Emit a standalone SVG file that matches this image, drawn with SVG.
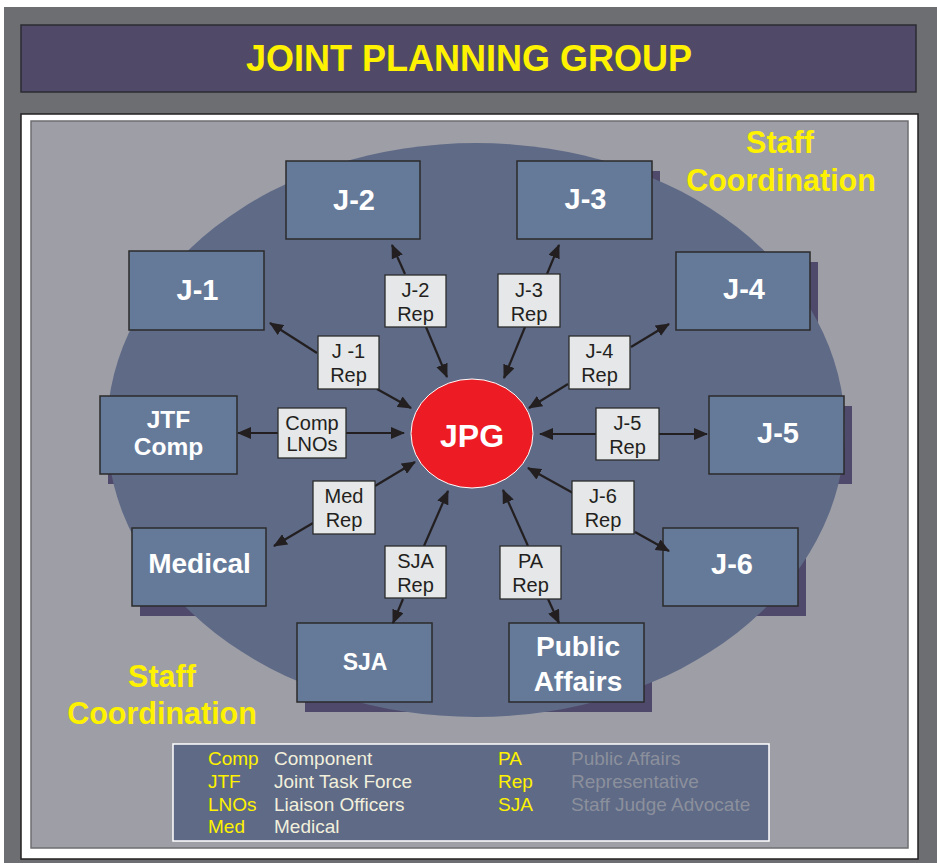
<svg xmlns="http://www.w3.org/2000/svg" width="937" height="863" viewBox="0 0 937 863">
<style>
.box{fill:#657a99;stroke:#2b2b2b;stroke-width:1.5}
.shadow{fill:#4f4a6b}
.bt{font-family:"Liberation Sans",Arial,sans-serif;font-weight:bold;fill:#ffffff;text-anchor:middle}
.rep{fill:#e6e7e8;stroke:#2b2b2b;stroke-width:1.3}
.rt{font-family:"Liberation Sans",Arial,sans-serif;font-size:20px;fill:#231f20;text-anchor:middle}
.sc{font-family:"Liberation Sans",Arial,sans-serif;font-weight:bold;font-size:30.5px;fill:#fff200;text-anchor:middle}
.conn line{stroke:#231f20;stroke-width:2.2;marker-end:url(#ah)}
.lg{font-family:"Liberation Sans",Arial,sans-serif;font-size:19px}
.ab{fill:#fff200}
.d1{fill:#f2f0dc}
.d2{fill:#8c909c}
</style>
<defs>
<marker id="ah" markerUnits="userSpaceOnUse" markerWidth="14" markerHeight="12" refX="13" refY="6" orient="auto">
<path d="M0,0 L14,6 L0,12 z" fill="#231f20"/>
</marker>
</defs>
<rect x="0" y="0" width="937" height="863" fill="#ffffff"/>
<rect x="4" y="7" width="933" height="856" fill="#6d6e71"/>
<g id="title">
<rect x="21" y="25" width="895" height="67" fill="#504a68" stroke="#2b2b33" stroke-width="1.5"/>
<text x="469" y="71" font-family="Liberation Sans, Arial, sans-serif" font-weight="bold" font-size="36" fill="#fff200" text-anchor="middle">JOINT PLANNING GROUP</text>
</g>
<rect x="21" y="114" width="897" height="745" fill="#ffffff" stroke="#231f20" stroke-width="1.5"/>
<rect x="31" y="121" width="877" height="727" fill="#9e9ea6" stroke="#6d6e71" stroke-width="1.5"/>
<g id="shadows">
<rect class="shadow" x="294" y="171" width="134" height="78"/>
<rect class="shadow" x="525" y="171" width="135" height="78"/>
<rect class="shadow" x="137" y="261" width="135" height="79"/>
<rect class="shadow" x="684" y="262" width="134" height="78"/>
<rect class="shadow" x="108" y="406" width="137" height="78"/>
<rect class="shadow" x="717" y="406" width="135" height="78"/>
<rect class="shadow" x="140" y="538" width="134" height="78"/>
<rect class="shadow" x="671" y="538" width="135" height="78"/>
<rect class="shadow" x="305" y="633" width="135" height="79"/>
<rect class="shadow" x="517" y="633" width="135" height="79"/>
</g>
<ellipse id="coordination-area" cx="476" cy="430" rx="369" ry="287" fill="#5e6a86"/>
<g id="staff-coordination-labels">
<text class="sc" x="780" y="153">Staff</text>
<text class="sc" x="781" y="191">Coordination</text>
<text class="sc" x="162" y="687">Staff</text>
<text class="sc" x="162" y="724">Coordination</text>
</g>
<g id="node-j2"><rect class="box" x="286" y="161" width="134" height="78"/><text class="bt" x="354" y="210" font-size="29">J-2</text></g>
<g id="node-j3"><rect class="box" x="517" y="161" width="135" height="78"/><text class="bt" x="585.5" y="209" font-size="29">J-3</text></g>
<g id="node-j1"><rect class="box" x="129" y="251" width="135" height="79"/><text class="bt" x="197.5" y="300" font-size="29">J-1</text></g>
<g id="node-j4"><rect class="box" x="676" y="252" width="134" height="78"/><text class="bt" x="744" y="299" font-size="29">J-4</text></g>
<g id="node-jtf-comp"><rect class="box" x="100" y="396" width="137" height="78"/><text class="bt" x="168.5" y="428" font-size="24.5">JTF</text><text class="bt" x="168.5" y="455" font-size="24.5">Comp</text></g>
<g id="node-j5"><rect class="box" x="709" y="396" width="135" height="78"/><text class="bt" x="778" y="443" font-size="29">J-5</text></g>
<g id="node-medical"><rect class="box" x="132" y="528" width="134" height="78"/><text class="bt" x="199.5" y="573" font-size="28">Medical</text></g>
<g id="node-j6"><rect class="box" x="663" y="528" width="135" height="78"/><text class="bt" x="732" y="574" font-size="29">J-6</text></g>
<g id="node-sja"><rect class="box" x="297" y="623" width="135" height="79"/><text class="bt" x="365" y="670" font-size="23">SJA</text></g>
<g id="node-public-affairs"><rect class="box" x="509" y="623" width="135" height="79"/><text class="bt" x="578" y="656" font-size="28">Public</text><text class="bt" x="578" y="691" font-size="28">Affairs</text></g>
<g id="node-jpg">
<ellipse cx="472" cy="433.5" rx="61" ry="54.5" fill="#ed1c24" stroke="#ffffff" stroke-width="1"/>
<text class="bt" x="472" y="447" font-size="32">JPG</text>
</g>
<g id="connectors" class="conn">
<line x1="317" y1="353" x2="270" y2="323"/>
<line x1="377" y1="389" x2="411" y2="408"/>
<line x1="405" y1="274" x2="392" y2="245"/>
<line x1="426" y1="327" x2="447" y2="377"/>
<line x1="547" y1="274" x2="559" y2="245"/>
<line x1="525" y1="327" x2="504" y2="378"/>
<line x1="631" y1="347" x2="669" y2="324"/>
<line x1="568" y1="384" x2="529" y2="408"/>
<line x1="278" y1="433" x2="238" y2="433"/>
<line x1="346" y1="433" x2="404" y2="433"/>
<line x1="597" y1="434" x2="540" y2="434"/>
<line x1="659" y1="434" x2="707" y2="434"/>
<line x1="375" y1="486" x2="415" y2="462"/>
<line x1="313" y1="523" x2="274" y2="546"/>
<line x1="424" y1="546" x2="448" y2="491"/>
<line x1="403" y1="599" x2="393" y2="623"/>
<line x1="528" y1="546" x2="503" y2="490"/>
<line x1="548" y1="599" x2="559" y2="623"/>
<line x1="573" y1="493" x2="528" y2="468"/>
<line x1="635" y1="532" x2="669" y2="551"/>
</g>
<g id="edge-labels">
<g id="label-j1-rep"><rect class="rep" x="318" y="336" width="61" height="53"/><text class="rt" x="348.5" y="358">J -1</text><text class="rt" x="348.5" y="382">Rep</text></g>
<g id="label-j2-rep"><rect class="rep" x="385" y="275" width="61" height="52"/><text class="rt" x="415.5" y="297">J-2</text><text class="rt" x="415.5" y="321">Rep</text></g>
<g id="label-j3-rep"><rect class="rep" x="498" y="274" width="62" height="53"/><text class="rt" x="529" y="297">J-3</text><text class="rt" x="529" y="321">Rep</text></g>
<g id="label-j4-rep"><rect class="rep" x="569" y="336" width="61" height="53"/><text class="rt" x="599.5" y="358">J-4</text><text class="rt" x="599.5" y="382">Rep</text></g>
<g id="label-comp-lnos"><rect class="rep" x="278" y="408" width="68" height="50"/><text class="rt" x="312" y="430">Comp</text><text class="rt" x="312" y="451">LNOs</text></g>
<g id="label-j5-rep"><rect class="rep" x="596" y="408" width="63" height="52"/><text class="rt" x="627.5" y="430">J-5</text><text class="rt" x="627.5" y="454">Rep</text></g>
<g id="label-med-rep"><rect class="rep" x="313" y="481" width="62" height="53"/><text class="rt" x="344" y="503">Med</text><text class="rt" x="344" y="527">Rep</text></g>
<g id="label-j6-rep"><rect class="rep" x="572" y="481" width="62" height="53"/><text class="rt" x="603" y="503">J-6</text><text class="rt" x="603" y="527">Rep</text></g>
<g id="label-sja-rep"><rect class="rep" x="385" y="546" width="61" height="52"/><text class="rt" x="415.5" y="568">SJA</text><text class="rt" x="415.5" y="592">Rep</text></g>
<g id="label-pa-rep"><rect class="rep" x="500" y="546" width="61" height="53"/><text class="rt" x="530.5" y="568">PA</text><text class="rt" x="530.5" y="592">Rep</text></g>
</g>
<g id="legend">
<rect x="173" y="744" width="596" height="97" fill="#5e6a86" stroke="#ffffff" stroke-width="1.5"/>
<g class="lg">
<text class="ab" x="208" y="765">Comp</text><text class="d1" x="274" y="765">Component</text>
<text class="ab" x="208" y="788">JTF</text><text class="d1" x="274" y="788">Joint Task Force</text>
<text class="ab" x="208" y="811">LNOs</text><text class="d1" x="274" y="811">Liaison Officers</text>
<text class="ab" x="208" y="833">Med</text><text class="d1" x="274" y="833">Medical</text>
<text class="ab" x="498" y="765">PA</text><text class="d2" x="571" y="765">Public Affairs</text>
<text class="ab" x="498" y="788">Rep</text><text class="d2" x="571" y="788">Representative</text>
<text class="ab" x="498" y="811">SJA</text><text class="d2" x="571" y="811">Staff Judge Advocate</text>
</g>
</g>
</svg>
